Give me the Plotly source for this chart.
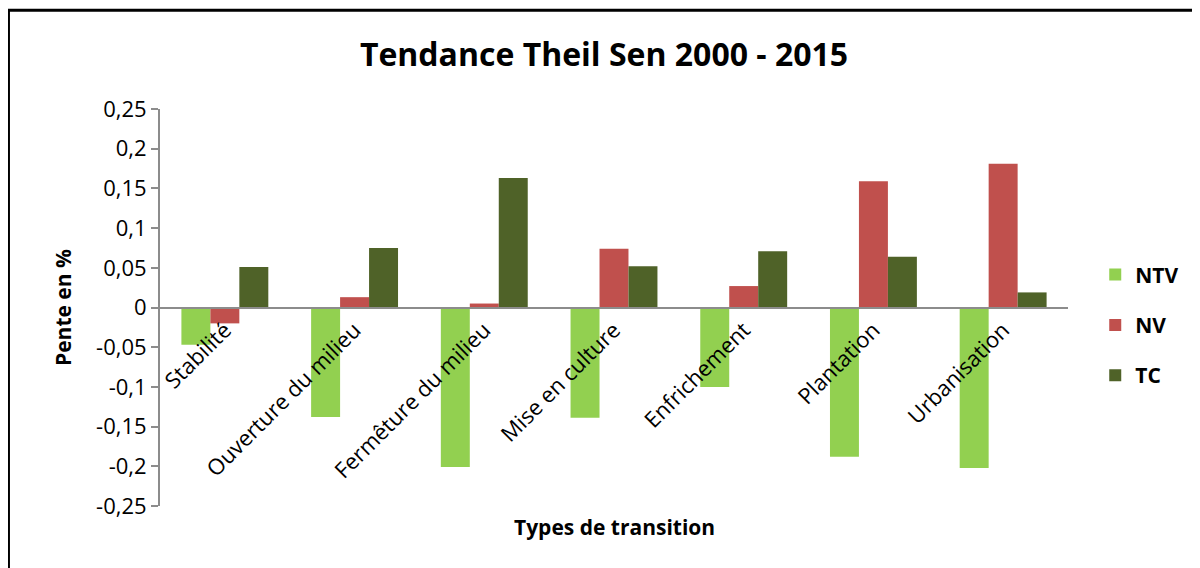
import plotly.graph_objects as go

# Tendance Theil Sen 2000 - 2015, pente par type de transition
categories = ["Stabilité", "Ouverture du milieu", "Fermêture du milieu",
              "Mise en culture", "Enfrichement", "Plantation", "Urbanisation"]
ntv = [-0.047, -0.138, -0.201, -0.139, -0.100, -0.188, -0.202]
nv = [-0.020, 0.013, 0.005, 0.074, 0.027, 0.159, 0.181]
tc = [0.051, 0.075, 0.163, 0.052, 0.071, 0.064, 0.019]

y_ticks = [0.25, 0.2, 0.15, 0.1, 0.05, 0, -0.05, -0.1, -0.15, -0.2, -0.25]
y_labels = [str(v).replace(".", ",") for v in y_ticks]

font = "Open Sans"
colors = {"NTV": "#92D050", "NV": "#C0504D", "TC": "#4F6228"}

fig = go.Figure()
for name, vals in [("NTV", ntv), ("NV", nv), ("TC", tc)]:
    fig.add_trace(go.Bar(x=categories, y=vals, name="<b>" + name + "</b>", legendgroup=name,
                         marker=dict(color=colors[name], line=dict(width=0))))

# la page ajoute 8 px de marge autour du graphique
fig.update_layout(
    width=1192, height=560,
    paper_bgcolor="white", plot_bgcolor="white",
    margin=dict(l=152, r=132, t=101, b=62),
    barmode="group", bargap=0.33, bargroupgap=0,
    font=dict(family=font, size=22, color="black"),
    title=dict(text="<b>Tendance Theil Sen 2000 - 2015</b>", x=0.5, xanchor="center",
               y=0.916, yanchor="middle", font=dict(size=32, family=font)),
    showlegend=True,
    legend=dict(x=1.03, y=0.456, xanchor="left", yanchor="middle",
                font=dict(size=21, family=font), tracegroupgap=20,
                itemwidth=30),
    xaxis=dict(anchor="free", position=0.5, showline=True, linecolor="#8C8C8C",
               linewidth=2, ticks="", tickangle=-45, showgrid=False,
               tickfont=dict(size=22), zeroline=False),
    yaxis=dict(range=[-0.25, 0.25], tickvals=y_ticks, ticktext=y_labels,
               showline=True, linecolor="#8C8C8C", linewidth=2,
               ticks="outside", ticklen=7, tickcolor="#8C8C8C", tickwidth=2,
               showgrid=False, zeroline=False, tickfont=dict(size=22),
               title=dict(text="<b>Pente en %</b>", font=dict(size=21), standoff=19)),
)

fig.add_annotation(text="<b>Types de transition</b>", xref="paper", yref="paper",
                   x=0.5, y=-0.053, yanchor="middle", showarrow=False, font=dict(size=21))

# cadre du graphique
fig.add_shape(type="rect", xref="paper", yref="paper",
              x0=-0.1669, x1=1.2, y0=-0.2, y1=1.249,
              line=dict(color="black", width=3), fillcolor="rgba(0,0,0,0)", layer="below")

fig.write_html("out.html")
